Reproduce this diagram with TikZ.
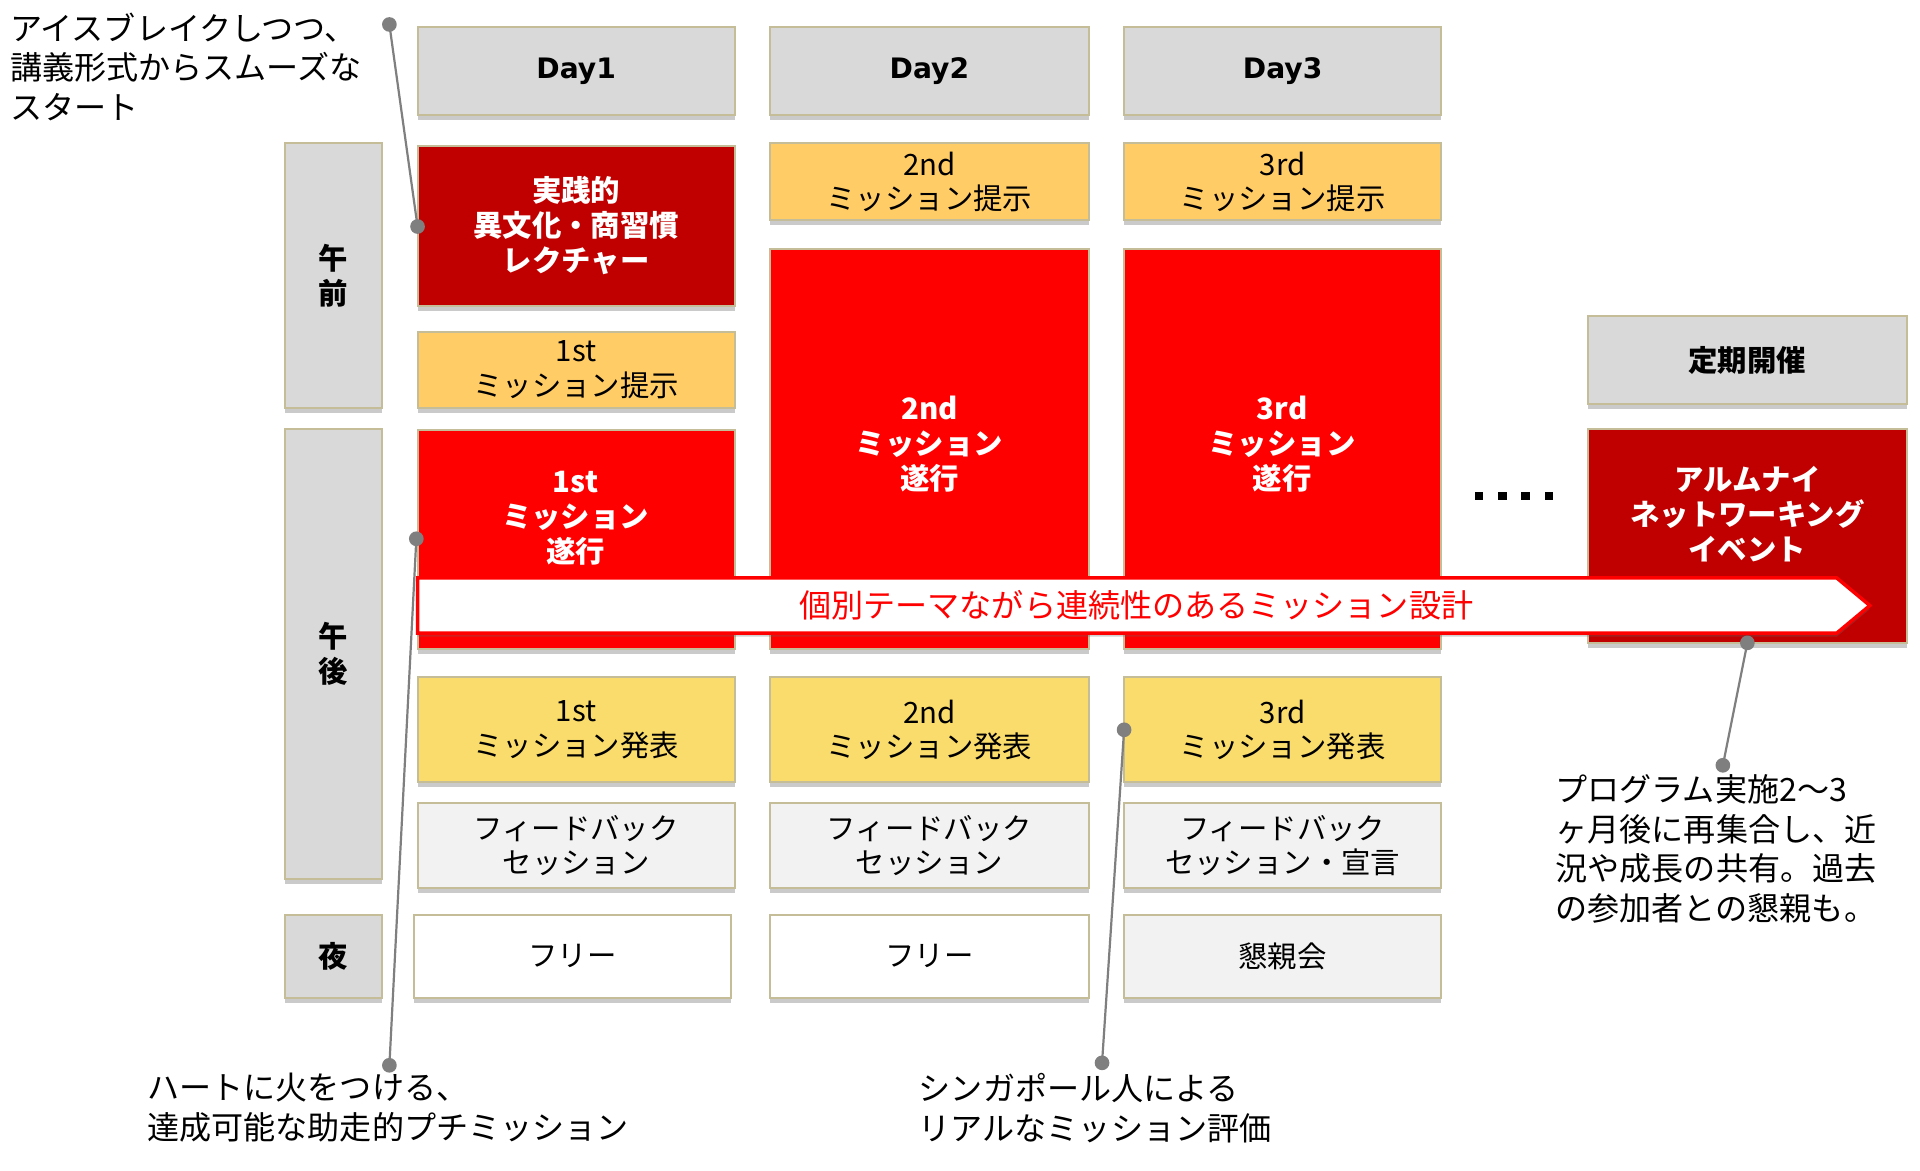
\documentclass[tikz,border=0pt]{standalone}
\usepackage{fontspec}
\setmainfont{Noto Sans CJK JP}
\newfontfamily\lat{DejaVu Sans}
\usetikzlibrary{shadows}
\definecolor{hdr}{HTML}{D9D9D9}
\definecolor{edge}{HTML}{C4BD97}
\definecolor{dred}{HTML}{C00000}
\definecolor{orng}{HTML}{FFCC66}
\definecolor{brred}{HTML}{FF0000}
\definecolor{yel}{HTML}{F9DC6B}
\definecolor{lgr}{HTML}{F2F2F2}
\definecolor{cgray}{HTML}{7F7F7F}
\newcommand{\bx}[7]{\node[#1, minimum width={(#4-#2)*0.5pt}, minimum height={(#5-#3)*0.5pt}] (#6) at ({(#2+#4)/2},{(#3+#5)/2}) {#7};}
\begin{document}
\begin{tikzpicture}[x=0.5pt,y=-0.5pt,
  box/.style={draw=edge, line width=0.8pt, align=center, inner sep=0pt,
    drop shadow={shadow xshift=0pt, shadow yshift=-2pt, opacity=0.35, fill=black!60}},
  nfont/.style={font=\fontsize{12}{14}\selectfont},
  bfont/.style={font=\fontsize{12}{14.3}\selectfont\bfseries},
  dayfont/.style={font=\lat\bfseries\fontsize{11.5}{14}\selectfont},
  hdrbox/.style={box, fill=hdr},
  lecbox/.style={box, fill=dred, text=white, bfont},
  presbox/.style={box, fill=orng, nfont},
  exbox/.style={box, fill=brred},
  repbox/.style={box, fill=yel, nfont},
  fbbox/.style={box, fill=lgr, nfont},
  freebox/.style={box, fill=white, nfont},
  callout/.style={anchor=north west, inner sep=0pt, align=left, font=\fontsize{13.1}{16.2}\selectfont},
  cline/.style={draw=cgray, line width=0.9pt},
  cdot/.style={fill=cgray},
  extext/.style={text=white, align=center, bfont},
]
\useasboundingbox (0,0) rectangle (1568,956.3);
% headers
\bx{hdrbox,dayfont}{341}{22}{600}{94}{d1}{Day1}
\bx{hdrbox,dayfont}{629}{22}{889}{94}{d2}{Day2}
\bx{hdrbox,dayfont}{918}{22}{1177}{94}{d3}{Day3}
\bx{hdrbox,bfont}{233}{117}{312}{333}{am}{午\\前}
\bx{hdrbox,bfont}{233}{350}{312}{718}{pm}{午\\後}
\bx{hdrbox,bfont}{233}{747}{312}{815}{night}{夜}
% day 1
\bx{lecbox}{341}{119}{600}{250}{lec}{実践的\\異文化・商習慣\\レクチャー}
\bx{presbox}{341}{271}{600}{333}{m1p}{1st\\ミッション提示}
\bx{exbox}{341}{351}{600}{530}{m1e}{}
\bx{repbox}{341}{553}{600}{639}{m1r}{1st\\ミッション発表}
\bx{fbbox}{341}{656}{600}{725}{fb1}{フィードバック\\セッション}
\bx{freebox}{338}{747}{597}{815}{fr1}{フリー}
% day 2
\bx{presbox}{629}{117}{889}{180}{m2p}{2nd\\ミッション提示}
\bx{exbox}{629}{203}{889}{530}{m2e}{}
\bx{repbox}{629}{553}{889}{639}{m2r}{2nd\\ミッション発表}
\bx{fbbox}{629}{656}{889}{725}{fb2}{フィードバック\\セッション}
\bx{freebox}{629}{747}{889}{815}{fr2}{フリー}
% day 3
\bx{presbox}{918}{117}{1177}{180}{m3p}{3rd\\ミッション提示}
\bx{exbox}{918}{203}{1177}{530}{m3e}{}
\bx{repbox}{918}{553}{1177}{639}{m3r}{3rd\\ミッション発表}
\bx{fbbox}{918}{656}{1177}{725}{fb3}{フィードバック\\セッション・宣言}
\bx{fbbox}{918}{747}{1177}{815}{kon}{懇親会}
% regular event
\bx{hdrbox,bfont}{1297}{258}{1557}{330}{reg}{定期開催}
\bx{box,fill=dred}{1297}{350}{1557}{525}{alm}{}
\node[extext] (almt) at (1427,420) {アルムナイ\\ネットワーキング\\イベント};
\node[extext] (m1t) at (470,423) {1st\\ミッション\\遂行};
\node[extext] (m2t) at (759,363) {2nd\\ミッション\\遂行};
\node[extext] (m3t) at (1047,363) {3rd\\ミッション\\遂行};
% dots
\foreach \xx in {1208,1227,1246,1265} \fill (\xx-3.5,401.5) rectangle (\xx+3.5,408.5);
% arrow
\draw[brred, line width=1.4pt, fill=white, line join=miter,
  drop shadow={shadow xshift=0pt, shadow yshift=-1.5pt, opacity=0.3, fill=black!60}]
  (341,472) -- (1500,472) -- (1527,494.5) -- (1500,517) -- (341,517) -- cycle;
\node[text=brred, font=\fontsize{13.1}{15}\selectfont] (atext) at (928,494.5) {個別テーマながら連続性のあるミッション設計};
% callouts
\coordinate (p1a) at (318,20); \coordinate (p1b) at (341,185);
\coordinate (p2a) at (340,440); \coordinate (p2b) at (318,870);
\coordinate (p3a) at (918,596); \coordinate (p3b) at (900,868);
\coordinate (p4a) at (1427,525); \coordinate (p4b) at (1407,625);
\draw[cline] (p1a) -- (p1b);
\draw[cline] (p2a) -- (p2b);
\draw[cline] (p3a) -- (p3b);
\draw[cline] (p4a) -- (p4b);
\foreach \p in {p1a,p1b,p2a,p2b,p3a,p3b,p4a,p4b} \fill[cdot] (\p) circle (3pt);
\node[callout] (c1) at (8,10) {アイスブレイクしつつ、\\講義形式からスムーズな\\スタート};
\node[callout] (c2) at (120,876) {ハートに火をつける、\\達成可能な助走的プチミッション};
\node[callout] (c3) at (750,876) {シンガポール人による\\リアルなミッション評価};
\node[callout] (c4) at (1270,632) {プログラム実施2～3\\ヶ月後に再集合し、近\\況や成長の共有。過去\\の参加者との懇親も。};
\end{tikzpicture}
\end{document}
